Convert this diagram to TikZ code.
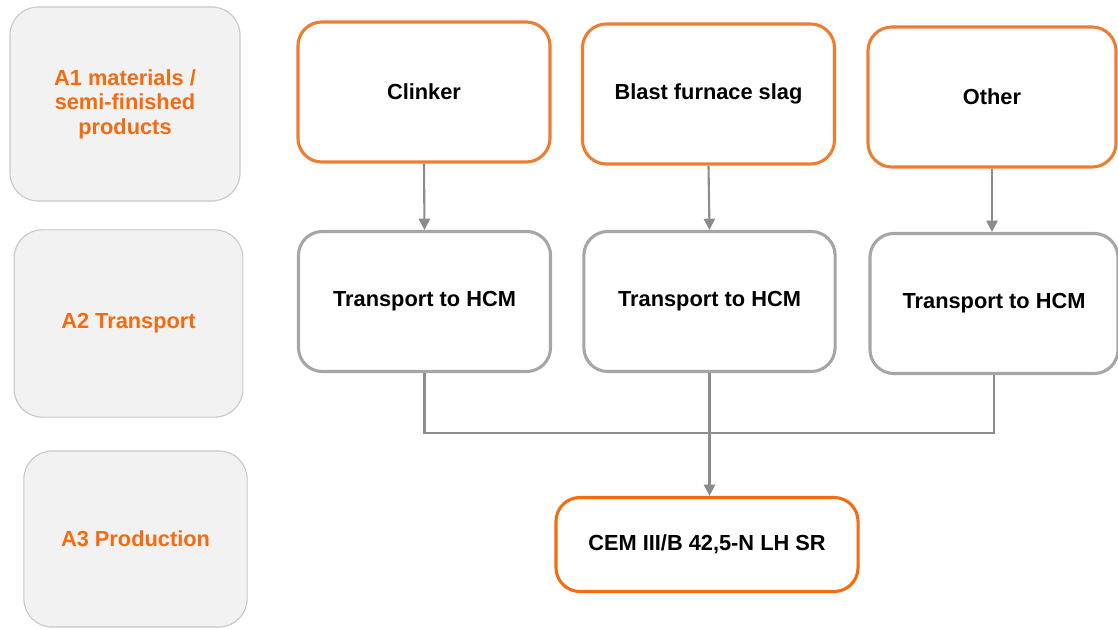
\documentclass[tikz,border=0pt]{standalone}
\usepackage{fontspec}
\setmainfont{Liberation Sans}
\usepackage{tikz}
\usetikzlibrary{arrows.meta,positioning,calc}
\definecolor{lcaorange}  {HTML}{ED7D31}
\definecolor{lcared}     {HTML}{F56B12}
\definecolor{lcagray}    {HTML}{A6A6A6}
\definecolor{lcaline}    {HTML}{8C8C8C}
\definecolor{lcapanel}   {HTML}{F2F2F2}
\definecolor{lcaborder}  {HTML}{C9C9C9}

\begin{document}
\begin{tikzpicture}[
  x=0.025cm, y=-0.025cm,
  phase/.style={draw=lcaborder,fill=lcapanel,line width=0.8pt,rounded corners=20pt,
                align=center,text=lcared,font=\fontsize{15.5}{17.5}\selectfont\bfseries},
  input/.style={draw=lcaorange,fill=white,line width=2.2pt,rounded corners=17pt,
                minimum width=6.3cm,minimum height=3.5cm,align=center,
                font=\fontsize{15.5}{18}\selectfont\bfseries},
  transport/.style={input,draw=lcagray},
  product/.style={input,draw=lcared,minimum width=7.55cm,minimum height=2.35cm},
  arr/.style={-{Triangle[width=8pt,length=8pt]},line width=1.5pt,draw=lcaline},
  link/.style={line width=1.5pt,draw=lcaline}
]
\useasboundingbox (0,0) rectangle (1118,629);

%% Phases (left column)
\node[phase,minimum width=5.75cm,minimum height=4.85cm] (a1) at (125,104)
  {A1 materials /\\semi-finished\\products};
\node[phase,minimum width=5.72cm,minimum height=4.68cm] (a2) at (128.5,323.5)
  {A2 Transport};
\node[phase,minimum width=5.58cm,minimum height=4.4cm]  (a3) at (135.5,539)
  {A3 Production};

%% A1 inputs
\node[input] (clinker) at (424,92)  {Clinker};
\node[input] (slag)    at (708.5,94) {Blast furnace slag};
\node[input,minimum width=6.2cm] (other) at (992,97) {Other};

%% A2 transport
\node[transport] (tr1) at (424.5,301.5) {Transport to HCM};
\node[transport,minimum width=6.28cm] (tr2) at (709.5,301.5) {Transport to HCM};
\node[transport,minimum width=6.2cm]  (tr3) at (994,303.5) {Transport to HCM};

%% A3 product
\node[product] (cem) at (707,544.5) {CEM III/B 42,5-N LH SR};

%% inputs -> transport
\draw[arr] (clinker.south) -- (tr1.north);
\draw[arr] (slag.south)    -- (tr2.north);
\draw[arr] (other.south)   -- (other.south |- tr3.north);

%% transport -> product
\coordinate (merge) at (709.5,433);
\draw[link] (tr1.south) |- (merge);
\draw[link] (tr3.south) |- (merge);
\draw[arr] (tr2.south) -- (tr2.south |- cem.north);

\end{tikzpicture}
\end{document}
